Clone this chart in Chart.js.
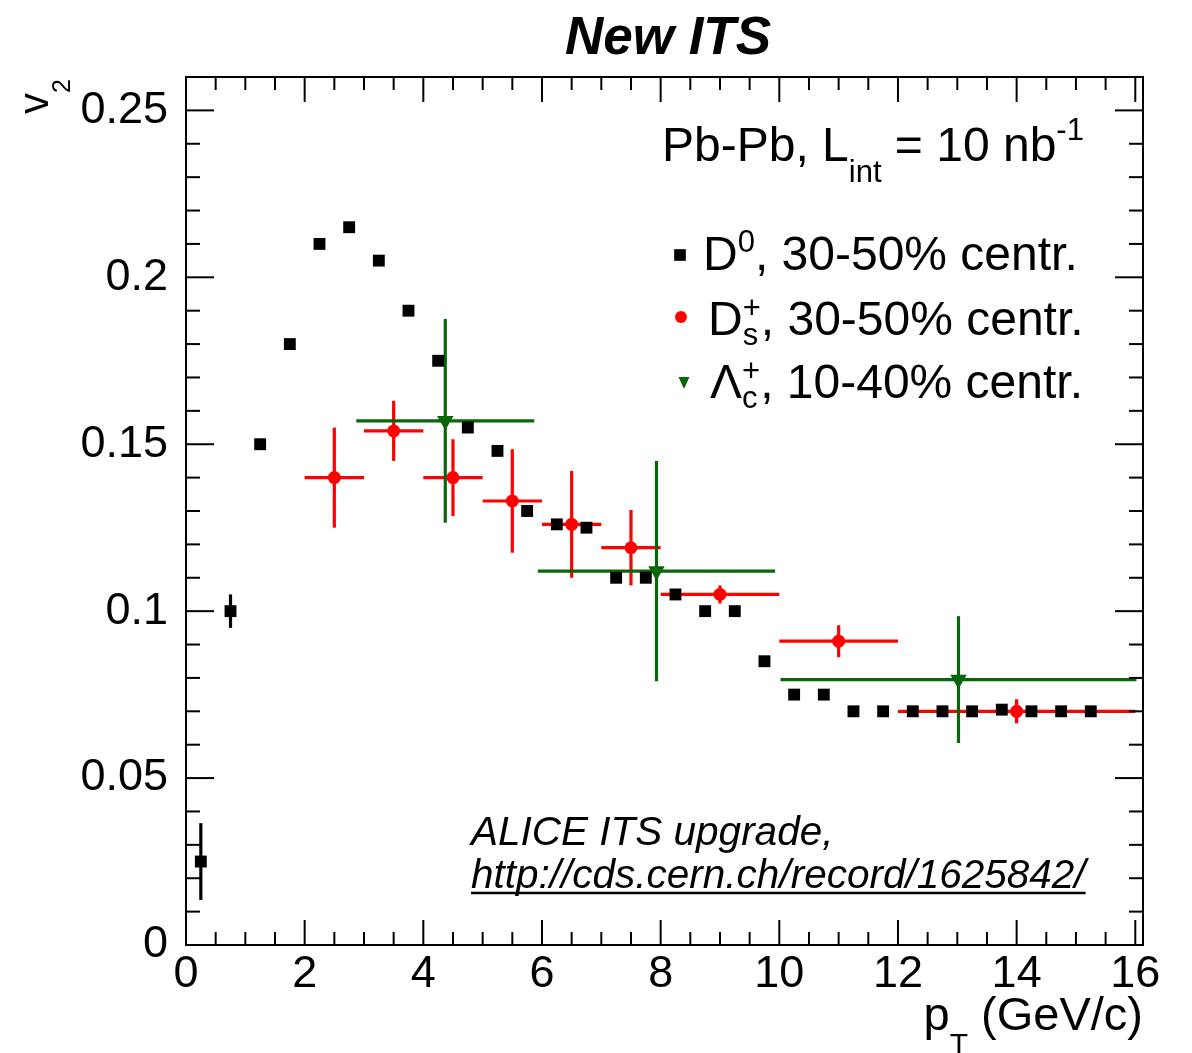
<!DOCTYPE html>
<html>
<head>
<meta charset="utf-8">
<script src="https://cdn.jsdelivr.net/npm/chart.js@4.4.4/dist/chart.umd.min.js"></script>
<style>
  html, body { margin: 0; padding: 0; background: #fff; }
  canvas { display: block; }
</style>
</head>
<body>
<canvas id="chart" width="1192" height="1053"></canvas>
<script>
const FONT = '"Liberation Sans", Arial, Helvetica, sans-serif';

// D0, 30-50% centrality
const d0Pt = [0.25, 0.75, 1.25, 1.75, 2.25, 2.75, 3.25, 3.75, 4.25, 4.75, 5.25, 5.75, 6.25, 6.75, 7.25, 7.75,
  8.25, 8.75, 9.25, 9.75, 10.25, 10.75, 11.25, 11.75, 12.25, 12.75, 13.25, 13.75, 14.25, 14.75, 15.25];
const d0V2 = [0.025, 0.100, 0.150, 0.180, 0.210, 0.215, 0.205, 0.190, 0.175, 0.155, 0.148, 0.130, 0.126, 0.125, 0.110, 0.110,
  0.105, 0.100, 0.100, 0.085, 0.075, 0.075, 0.070, 0.070, 0.070, 0.070, 0.070, 0.0705, 0.070, 0.070, 0.070];
const d0V2Err = [0.0115, 0.005, 0.001, 0.001, 0.001, 0.001, 0.001, 0.001, 0.001, 0.001, 0.001, 0.001, 0.001, 0.001, 0.001, 0.001,
  0.001, 0.001, 0.001, 0.001, 0.001, 0.001, 0.001, 0.001, 0.001, 0.001, 0.001, 0.001, 0.001, 0.001, 0.001];

// Ds+, 30-50% centrality
const dsPt = [2.5, 3.5, 4.5, 5.5, 6.5, 7.5, 9, 11, 14];
const dsPtErr = [0.5, 0.5, 0.5, 0.5, 0.5, 0.5, 1, 1, 2];
const dsV2 = [0.140, 0.154, 0.140, 0.133, 0.126, 0.119, 0.105, 0.091, 0.070];
const dsV2Err = [0.015, 0.009, 0.0115, 0.0155, 0.016, 0.0113, 0.0027, 0.0048, 0.0036];

// Lambda_c+, 10-40% centrality
const lcPt = [4.37, 7.93, 13.02];
const lcPtErr = [1.5, 2, 3];
const lcV2 = [0.157, 0.112, 0.0795];
const lcV2Err = [0.0305, 0.033, 0.019];

const xTickVals = [0, 2, 4, 6, 8, 10, 12, 14, 16];
const xTickLabels = ['0', '2', '4', '6', '8', '10', '12', '14', '16'];
const yTickVals = [0, 0.05, 0.1, 0.15, 0.2, 0.25];
const yTickLabels = ['0', '0.05', '0.1', '0.15', '0.2', '0.25'];

const RED = '#ff0000';
const GREEN = '#086608';

function pts(xs, ys) {
  return xs.map((x, i) => ({ x, y: ys[i] }));
}

function line(ctx, x1, y1, x2, y2) {
  ctx.beginPath();
  ctx.moveTo(x1, y1);
  ctx.lineTo(x2, y2);
  ctx.stroke();
}

// text with sub/superscripts; keep = next piece starts at same x
function drawRich(ctx, x, y, parts) {
  let cx = x, held = 0;
  for (const p of parts) {
    ctx.font = `${p.f || ''} ${p.s}px ${FONT}`;
    ctx.fillText(p.t, cx, y + (p.dy || 0));
    const w = ctx.measureText(p.t).width;
    if (p.keep) held = Math.max(held, w);
    else { cx += Math.max(held, w); held = 0; }
  }
  return cx;
}

function richWidth(ctx, parts) {
  let cx = 0, held = 0;
  for (const p of parts) {
    ctx.font = `${p.f || ''} ${p.s}px ${FONT}`;
    const w = ctx.measureText(p.t).width;
    if (p.keep) held = Math.max(held, w);
    else { cx += Math.max(held, w); held = 0; }
  }
  return cx;
}

const errorBars = {
  id: 'errorBars',
  beforeDatasetsDraw(chart) {
    const { ctx, scales: { x, y } } = chart;
    ctx.save();
    chart.data.datasets.forEach(ds => {
      ctx.strokeStyle = ds.backgroundColor;
      ctx.lineWidth = 3.2;
      ds.data.forEach((p, i) => {
        const px = x.getPixelForValue(p.x);
        const py = y.getPixelForValue(p.y);
        if (ds.yErr) line(ctx, px, y.getPixelForValue(p.y - ds.yErr[i]), px, y.getPixelForValue(p.y + ds.yErr[i]));
        if (ds.xErr) line(ctx, x.getPixelForValue(p.x - ds.xErr[i]), py, x.getPixelForValue(p.x + ds.xErr[i]), py);
      });
    });
    ctx.restore();
  }
};

const rootFrame = {
  id: 'rootFrame',
  afterDraw(chart) {
    const { ctx, chartArea: a, scales: { x, y } } = chart;
    ctx.save();
    ctx.strokeStyle = '#000';
    ctx.lineWidth = 2;
    ctx.strokeRect(a.left, a.top, a.right - a.left, a.bottom - a.top);

    // x ticks every 0.5, major every 2
    for (let i = 0; i * 0.5 <= x.max + 1e-6; i++) {
      const px = x.getPixelForValue(i * 0.5);
      const len = i % 4 === 0 ? 25 : 13;
      line(ctx, px, a.bottom, px, a.bottom - len);
      line(ctx, px, a.top, px, a.top + len);
    }
    // y ticks every 0.01, major every 0.05
    for (let i = 0; i * 0.01 <= y.max + 1e-6; i++) {
      const py = y.getPixelForValue(i * 0.01);
      const len = i % 5 === 0 ? 28 : 14;
      line(ctx, a.left, py, a.left + len, py);
      line(ctx, a.right, py, a.right - len, py);
    }

    ctx.fillStyle = '#000';
    ctx.textBaseline = 'alphabetic';

    // title
    ctx.textAlign = 'center';
    ctx.font = `italic bold 53px ${FONT}`;
    ctx.fillText('New ITS', 668, 54);

    // x title, right aligned to frame
    ctx.textAlign = 'left';
    const xTitle = [{ t: 'p', s: 47 }, { t: 'T', s: 30, dy: 24 }, { t: ' (GeV/c)', s: 47 }];
    drawRich(ctx, a.right - richWidth(ctx, xTitle), 1030, xTitle);

    // y title, rotated
    ctx.save();
    ctx.translate(48, 114);
    ctx.rotate(-Math.PI / 2);
    drawRich(ctx, 0, 0, [{ t: 'v', s: 42 }, { t: '2', s: 25, dy: 22 }]);
    ctx.restore();

    // legend header
    drawRich(ctx, 662, 161, [
      { t: 'Pb-Pb, L', s: 48 }, { t: 'int', s: 31, dy: 21 },
      { t: ' = 10 nb', s: 48 }, { t: '-1', s: 31, dy: -21 }
    ]);

    // legend entries
    ctx.fillStyle = '#000';
    ctx.fillRect(680 - 5.8, 255 - 5.8, 11.6, 11.6);
    drawRich(ctx, 703, 270, [
      { t: 'D', s: 48 }, { t: '0', s: 31, dy: -18 }, { t: ', 30-50% centr.', s: 48 }
    ]);

    ctx.fillStyle = RED;
    ctx.beginPath();
    ctx.arc(681, 317, 6, 0, Math.PI * 2);
    ctx.fill();
    ctx.fillStyle = '#000';
    drawRich(ctx, 708, 335, [
      { t: 'D', s: 48 }, { t: '+', s: 31, dy: -17, keep: true }, { t: 's', s: 31, dy: 10 },
      { t: ', 30-50% centr.', s: 48 }
    ]);

    ctx.fillStyle = GREEN;
    ctx.beginPath();
    ctx.moveTo(678.5, 377);
    ctx.lineTo(689.5, 377);
    ctx.lineTo(684, 389);
    ctx.closePath();
    ctx.fill();
    ctx.fillStyle = '#000';
    drawRich(ctx, 710, 398, [
      { t: 'Λ', s: 48, f: '' }, { t: '+', s: 31, dy: -17, keep: true }, { t: 'c', s: 31, dy: 10 },
      { t: ', 10-40% centr.', s: 48 }
    ]);

    // reference note
    ctx.font = `italic 40.5px ${FONT}`;
    ctx.fillText('ALICE ITS upgrade,', 471, 845);
    const url = 'http://cds.cern.ch/record/1625842/';
    ctx.fillText(url, 471, 888);
    const uw = ctx.measureText(url).width;
    ctx.lineWidth = 2.5;
    line(ctx, 471, 893, 471 + uw, 893);

    ctx.restore();
  }
};

const tickFont = { family: FONT, size: 45 };

new Chart(document.getElementById('chart'), {
  type: 'scatter',
  data: {
    datasets: [
      {
        label: 'D0, 30-50% centr.',
        data: pts(d0Pt, d0V2),
        yErr: d0V2Err,
        backgroundColor: '#000000',
        pointStyle: 'rect',
        pointRadius: 8.4,
        pointBorderWidth: 0,
        order: 3
      },
      {
        label: 'Ds+, 30-50% centr.',
        data: pts(dsPt, dsV2),
        xErr: dsPtErr,
        yErr: dsV2Err,
        backgroundColor: RED,
        pointStyle: 'circle',
        pointRadius: 6.5,
        pointBorderWidth: 0,
        order: 2
      },
      {
        label: 'Lc+, 10-40% centr.',
        data: pts(lcPt, lcV2),
        xErr: lcPtErr,
        yErr: lcV2Err,
        backgroundColor: GREEN,
        pointStyle: 'triangle',
        rotation: 180,
        pointRadius: 9.5,
        pointBorderWidth: 0,
        order: 1
      }
    ]
  },
  options: {
    responsive: false,
    animation: false,
    devicePixelRatio: 1,
    layout: { padding: { top: 77, right: 49, left: 0, bottom: 0 } },
    plugins: { legend: { display: false }, tooltip: { enabled: false } },
    scales: {
      x: {
        type: 'linear',
        min: 0,
        max: 16.13,
        grid: { display: false },
        border: { display: false },
        ticks: {
          font: tickFont, color: '#000', padding: -5, maxRotation: 0, autoSkip: false,
          callback: (v, i) => xTickLabels[i]
        },
        afterBuildTicks: s => { s.ticks = xTickVals.map(v => ({ value: v })); },
        afterFit: s => { s.height = 108; }
      },
      y: {
        type: 'linear',
        min: 0,
        max: 0.26,
        grid: { display: false },
        border: { display: false },
        ticks: {
          font: tickFont, color: '#000', padding: 10, autoSkip: false,
          callback: (v, i) => yTickLabels[i]
        },
        afterBuildTicks: s => { s.ticks = yTickVals.map(v => ({ value: v })); },
        afterFit: s => { s.width = 186; }
      }
    }
  },
  plugins: [errorBars, rootFrame]
});
</script>
</body>
</html>
